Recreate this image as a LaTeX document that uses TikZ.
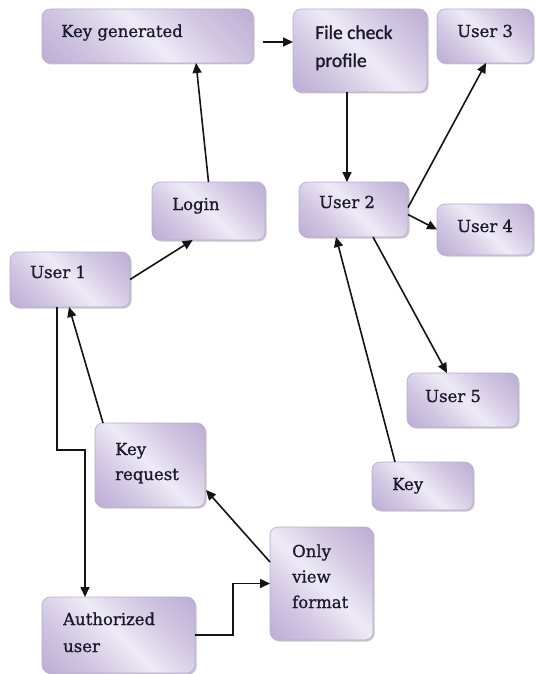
\documentclass[tikz,border=0pt]{standalone}
\usepackage{fontspec}
\setmainfont{DejaVu Serif}[BoldFont={DejaVu Serif},BoldFeatures={FakeBold=0.9}]
\newfontfamily\fcfont{Carlito}[BoldFont={Carlito},BoldFeatures={FakeBold=1.2}]
\usetikzlibrary{arrows.meta,calc,shadows}
\definecolor{boxdark}{RGB}{172,152,202}
\definecolor{boxmid}{RGB}{208,198,226}
\definecolor{boxlight}{RGB}{238,234,245}
\definecolor{boxedge}{RGB}{185,170,210}
\definecolor{txt}{RGB}{25,25,45}
\definecolor{arrowc}{RGB}{20,20,20}
\pgfdeclarehorizontalshading{boxshade}{100bp}{color(0bp)=(boxdark); color(32bp)=(boxmid); color(50bp)=(boxlight); color(68bp)=(boxmid); color(100bp)=(boxdark)}
\tikzset{
  box/.style={rectangle, rounded corners=8pt, draw=boxedge, line width=0.6pt,
    shading=boxshade, shading angle=45,
    inner sep=0pt, outer sep=0pt, anchor=north west,
    drop shadow={shadow xshift=1.5pt, shadow yshift=-1.5pt, fill=black, opacity=0.22}},
  lbl/.style={anchor=base west, inner sep=0pt, text=txt, font=\bfseries\fontsize{16.5}{25}\selectfont},
  arr/.style={draw=arrowc, line width=1.6pt, -{Triangle[length=10pt,width=9pt]}},
}
\begin{document}
\begin{tikzpicture}[x=1pt,y=-1pt]
\fill[white] (0,0) rectangle (536,674);
\useasboundingbox (0,0) rectangle (536,674);

% boxes
\node[box, minimum width=211pt, minimum height=54pt] (kg) at (42,9) {};
\node[box, minimum width=134pt, minimum height=83pt] (fc) at (293,9) {};
\node[box, minimum width=96pt, minimum height=54pt] (u3) at (437,9) {};
\node[box, minimum width=109pt, minimum height=55pt] (u2) at (299,182) {};
\node[box, minimum width=96pt, minimum height=51pt] (u4) at (437,204) {};
\node[box, minimum width=113pt, minimum height=58pt] (login) at (152,182) {};
\node[box, minimum width=120pt, minimum height=55pt] (u1) at (10,252) {};
\node[box, minimum width=110pt, minimum height=84pt] (kr) at (95,423) {};
\node[box, minimum width=103pt, minimum height=113pt] (ov) at (270,527) {};
\node[box, minimum width=153pt, minimum height=76pt] (au) at (42,597) {};
\node[box, minimum width=111pt, minimum height=54pt] (u5) at (407,373) {};
\node[box, minimum width=101pt, minimum height=48pt] (key) at (372,462) {};

% labels
\node[lbl] (kgt) at (61,37) {Key generated};
\node[lbl, font=\fcfont\bfseries\fontsize{19.5}{28}\selectfont] (fct) at (315,39)
  {\begin{tabular}[t]{@{}l@{}}File check\\profile\end{tabular}};
\node[lbl] (u3t) at (457,37) {User 3};
\node[lbl] (u2t) at (319,208) {User 2};
\node[lbl] (u4t) at (457,232) {User 4};
\node[lbl] (logint) at (172,210) {Login};
\node[lbl] (u1t) at (30,278) {User 1};
\node[lbl] (krt) at (115,455)
  {\begin{tabular}[t]{@{}l@{}}Key\\request\end{tabular}};
\node[lbl, font=\bfseries\fontsize{16.5}{25.5}\selectfont] (ovt) at (292,557)
  {\begin{tabular}[t]{@{}l@{}}Only\\view\\format\end{tabular}};
\node[lbl, font=\bfseries\fontsize{16.5}{27}\selectfont] (aut) at (63,625)
  {\begin{tabular}[t]{@{}l@{}}Authorized\\user\end{tabular}};
\node[lbl] (u5t) at (425,402) {User 5};
\node[lbl] (keyt) at (392,490) {Key};

% connectors
\coordinate (kgfc) at ($(kg.east)+(10,6)$);
\draw[arr] (kgfc) -- (kgfc -| fc.west);
\draw[arr] (login.north) -- ($(kg.south west)!0.73!(kg.south east)$);
\draw[arr] (u1.east) -- ($(login.south west)!0.36!(login.south east)$);
\draw[arr] ($(kr.north west)+(8,0)$) -- ($(u1.south west)+(59,0)$);
\draw[arr] ($(u1.south west)+(47,0)$) -- ++(0,143) -- ++(28,0) -- ($(au.north west)+(43,0)$);
\draw[arr] (au.east) -- ++(38,0) |- (ov.west);
\draw[arr] ($(ov.north west)+(0,35)$) -- ($(kr.south east)+(1,-17)$);
\coordinate (fcu2) at ($(fc.south west)+(54,0)$);
\draw[arr] (fcu2) -- (fcu2 |- u2.north);
\draw[arr] ($(u2.east)+(0,-2)$) -- ($(u3.south west)+(49,0)$);
\draw[arr] ($(u2.east)+(0,5)$) -- (u4.west);
\draw[arr] ($(u2.south west)+(74,0)$) -- ($(u5.north west)+(40,0)$);
\draw[arr] ($(key.north west)+(23,0)$) -- ($(u2.south west)+(37,0)$);
\end{tikzpicture}
\end{document}
